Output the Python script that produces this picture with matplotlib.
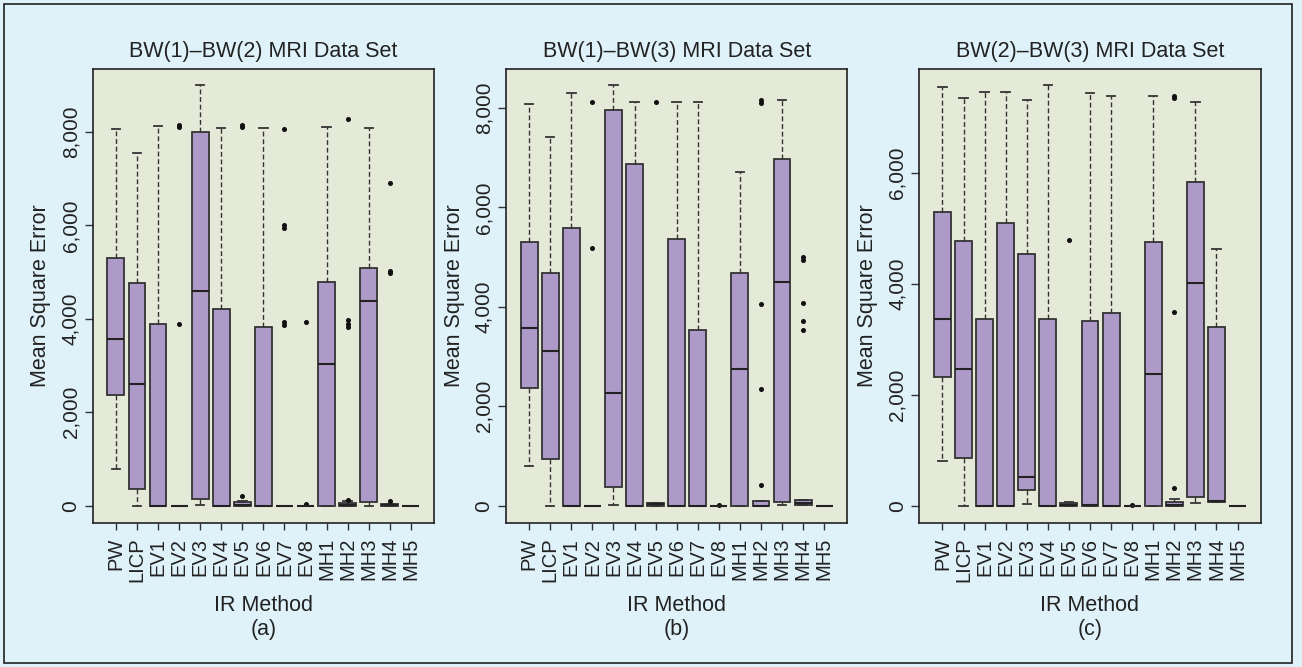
import numpy as np
import matplotlib
matplotlib.use("Agg")
import matplotlib.pyplot as plt
from matplotlib.patches import Rectangle
from matplotlib.ticker import FuncFormatter

plt.rcParams['font.family'] = ['Liberation Sans', 'DejaVu Sans']

methods = ['PW', 'LICP', 'EV1', 'EV2', 'EV3', 'EV4', 'EV5', 'EV6', 'EV7', 'EV8',
           'MH1', 'MH2', 'MH3', 'MH4', 'MH5']

titles = ['BW(1)\u2013BW(2) MRI Data Set', 'BW(1)\u2013BW(3) MRI Data Set',
          'BW(2)\u2013BW(3) MRI Data Set']
panel_tags = ['(a)', '(b)', '(c)']

# panel (a)
a_whislo = [790, 0, 0, 0, 20, 0, 0, 0, 0, 0, 0, 0, 0, 0, 0]
a_q1 = [2380, 356, 0, 0, 143, 0, 0, 0, 0, 0, 0, 0, 71, 0, 0]
a_med = [3576, 2607, 0, 0, 4590, 0, 20, 0, 0, 0, 3027, 20, 4380, 10, 0]
a_q3 = [5300, 4760, 3900, 0, 8000, 4210, 85, 3830, 0, 0, 4786, 57, 5085, 30, 0]
a_whishi = [8063, 7550, 8120, 0, 9000, 8083, 100, 8083, 0, 0, 8100, 90, 8077, 40, 0]
a_fliers = [[], [], [], [8100, 8150, 3900], [], [], [8100, 8150, 213], [],
            [8055, 5955, 6000, 3940, 3870], [3940, 30], [],
            [8270, 3980, 3900, 3820, 128], [], [6900, 5030, 4990, 92], []]

# panel (b)
b_whislo = [797, 0, 0, 0, 12, 0, 0, 0, 0, 0, 0, 0, 12, 20, 0]
b_q1 = [2376, 932, 0, 0, 375, 0, 0, 0, 0, 0, 0, 0, 73, 20, 0]
b_med = [3576, 3107, 0, 0, 2261, 0, 30, 0, 0, 0, 2744, 0, 4490, 60, 0]
b_q3 = [5307, 4677, 5583, 0, 7965, 6872, 50, 5355, 3529, 0, 4683, 100, 6978, 107, 0]
b_whishi = [8073, 7409, 8307, 0, 8456, 8126, 60, 8126, 8114, 0, 6704, 100, 8160, 120, 0]
b_fliers = [[], [], [], [8114, 5180], [], [], [8114], [], [], [15], [],
            [8160, 8110, 4053, 2348, 415], [], [4993, 4950, 4080, 3710, 3543], []]

# panel (c)
c_whislo = [800, 0, 0, 0, 30, 0, 0, 0, 0, 0, 0, 0, 54, 60, 0]
c_q1 = [2325, 860, 0, 0, 283, 0, 0, 0, 0, 0, 0, 0, 151, 72, 0]
c_med = [3370, 2463, 0, 0, 511, 0, 20, 20, 0, 0, 2368, 20, 4018, 90, 0]
c_q3 = [5305, 4770, 3370, 5100, 4541, 3370, 50, 3333, 3472, 0, 4764, 61, 5845, 3232, 0]
c_whishi = [7562, 7364, 7472, 7460, 7322, 7586, 60, 7449, 7395, 0, 7388, 115, 7292, 4625, 0]
c_fliers = [[], [], [], [], [], [], [4793], [], [], [15], [],
            [7400, 7350, 3503, 319], [], [], []]

panels = [
    (a_whislo, a_q1, a_med, a_q3, a_whishi, a_fliers, [0, 2000, 4000, 6000, 8000]),
    (b_whislo, b_q1, b_med, b_q3, b_whishi, b_fliers, [0, 2000, 4000, 6000, 8000]),
    (c_whislo, c_q1, c_med, c_q3, c_whishi, c_fliers, [0, 2000, 4000, 6000]),
]

bg = '#dff2fa'
face = '#e5e9d8'
boxc = '#ae9ac8'
edge = '#333333'
txt = '#222222'

W, H = 1302, 667
fig = plt.figure(figsize=(W / 100, H / 100), dpi=100, facecolor=bg)
fig.patches.append(Rectangle((4 / W, 4 / H), 1288 / W, 659 / H, transform=fig.transFigure,
                             fill=False, edgecolor='#222222', lw=1.2))

lefts = [92.7, 506, 919.3]
ax_w, top, bottom = 341.4, 68.5, 522.5

for i, (wlo, q1, med, q3, whi, fl, yt) in enumerate(panels):
    ax = fig.add_axes([lefts[i] / W, (H - bottom) / H, ax_w / W, (bottom - top) / H])
    ax.set_facecolor(face)
    stats = []
    for k in range(len(methods)):
        stats.append(dict(whislo=wlo[k], q1=q1[k], med=med[k], q3=q3[k],
                          whishi=whi[k], fliers=fl[k], label=methods[k]))
    ax.bxp(stats, positions=np.arange(1, len(methods) + 1), widths=0.8, capwidths=0.4,
           patch_artist=True,
           boxprops=dict(facecolor=boxc, edgecolor=edge, lw=1.3),
           medianprops=dict(color='#222222', lw=1.5),
           whiskerprops=dict(color=edge, lw=1.0, linestyle=(0, (3.5, 2))),
           capprops=dict(color=edge, lw=1.3),
           flierprops=dict(marker='o', markersize=2.6, markerfacecolor='#111111',
                           markeredgecolor='#111111'))
    allv = whi + [v for f in fl for v in f]
    lo, hi = 0, max(allv)
    pad = 0.04 * (hi - lo)
    ax.set_ylim(lo - pad, hi + pad)
    ax.set_xlim(-0.1, len(methods) + 1.1)
    ax.set_yticks(yt)
    ax.yaxis.set_major_formatter(FuncFormatter(lambda v, p: f'{int(v):,}'))
    ax.tick_params(axis='y', labelsize=15, length=6, width=1, color='#333333', pad=3,
                   labelcolor=txt)
    ax.tick_params(axis='x', labelsize=14.5, length=5, width=1, color='#333333', pad=6,
                   labelcolor=txt)
    ax.set_xticklabels(methods, rotation=90)
    for lab in ax.get_yticklabels():
        lab.set_rotation(90)
        lab.set_va('center')
    for s in ax.spines.values():
        s.set_color('#222222')
        s.set_linewidth(1.2)
    ax.set_title(titles[i], fontsize=15.5, pad=8, color=txt)
    ax.set_ylabel('Mean Square Error', fontsize=15.5, labelpad=7, color=txt)
    ax.set_xlabel('IR Method\n' + panel_tags[i], fontsize=15.5, labelpad=9,
                  color=txt, linespacing=1.2)

fig.savefig('out.png', dpi=100, facecolor=bg)
